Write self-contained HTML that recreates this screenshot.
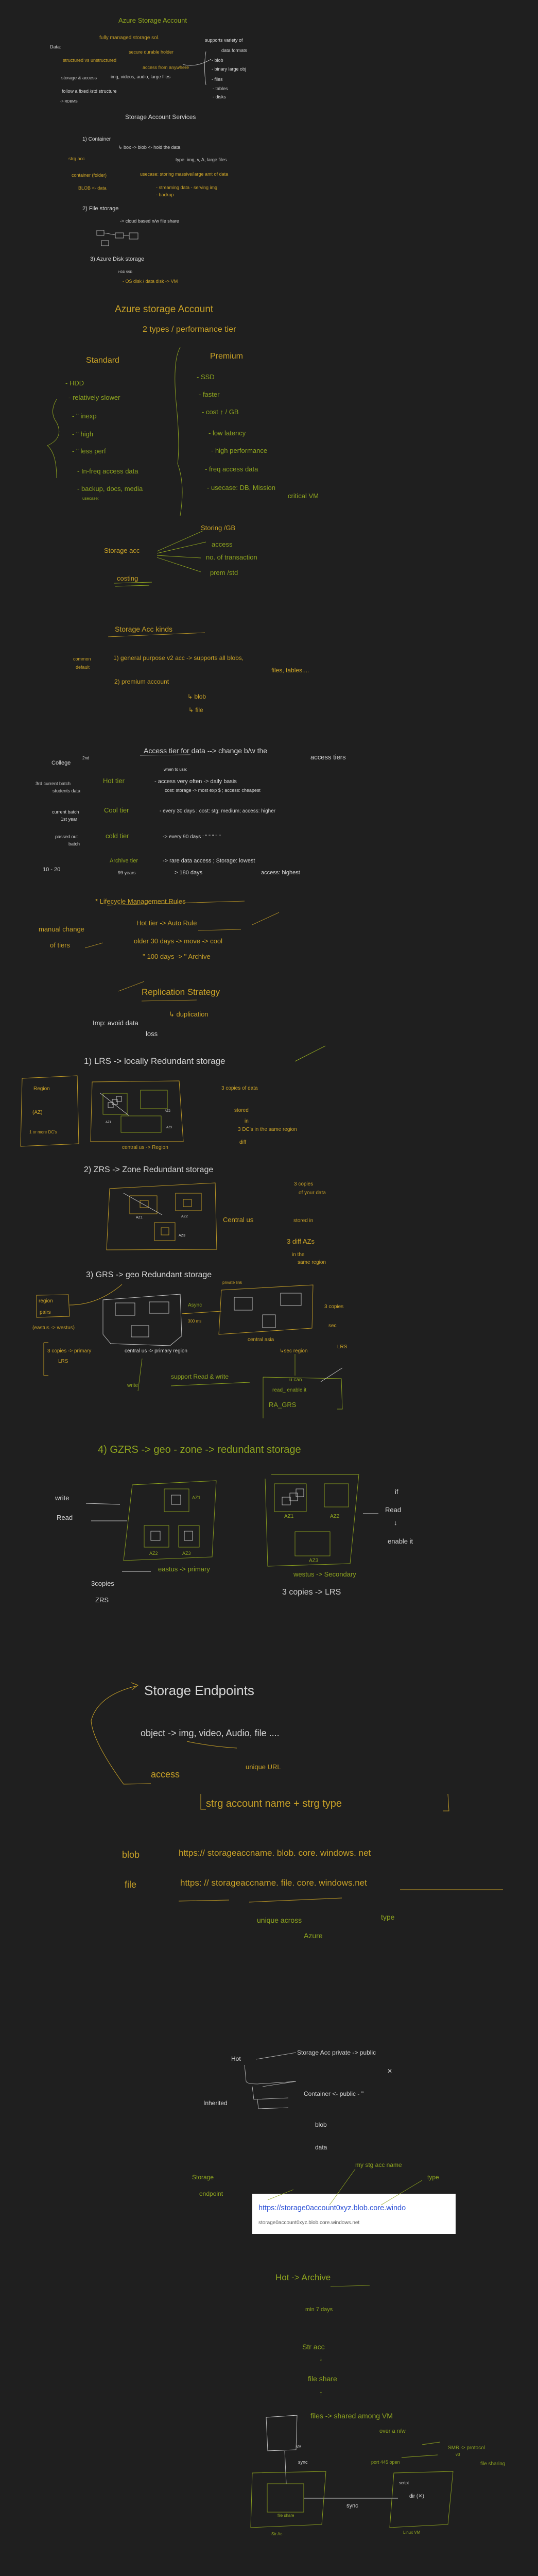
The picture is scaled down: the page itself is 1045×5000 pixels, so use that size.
<!DOCTYPE html>
<html><head><meta charset="utf-8"><style>
html,body{margin:0;padding:0;background:#1f1f1f;}
svg{display:block}
text{font-family:"Liberation Sans",sans-serif;}
.w{fill:#d6d6d6}.y{fill:#c9a227}.g{fill:#8fa51f}.b{fill:#2a4fd6}.gr{fill:#555}
</style></head><body>
<svg width="1045" height="5000" viewBox="0 0 1045 5000" xmlns="http://www.w3.org/2000/svg">
<rect width="1045" height="5000" fill="#1f1f1f"/>
<g font-size="9">
<text x="230" y="44" class="g" font-size="13">Azure Storage Account</text>
<text x="193" y="76" class="y" font-size="10">fully managed  storage sol.</text>
<text x="97" y="94" class="w">Data:</text>
<text x="250" y="104" class="y">secure  durable  holder</text>
<text x="122" y="120" class="y">structured  vs  unstructured</text>
<text x="277" y="134" class="y">access from anywhere</text>
<text x="119" y="154" class="w">storage &amp; access</text>
<text x="215" y="152" class="w">img, videos, audio, large files</text>
<text x="120" y="180" class="w">follow a fixed /std structure</text>
<text x="117" y="199" class="w" font-size="7">-&gt; RDBMS</text>
<text x="398" y="81" class="w">supports variety of</text>
<text x="430" y="101" class="w">data formats</text>
<text x="411" y="120" class="w">- blob</text>
<text x="411" y="137" class="w">- binary large obj</text>
<text x="411" y="157" class="w">- files</text>
<text x="413" y="175" class="w">- tables</text>
<text x="413" y="191" class="w">- disks</text>
<text x="243" y="231" class="w" font-size="12">Storage Account Services</text>
<text x="160" y="273" class="w" font-size="10">1)  Container</text>
<text x="230" y="289" class="w">↳ box  -&gt;  blob &lt;- hold the data</text>
<text x="341" y="313" class="w">type. img, v, A, large files</text>
<text x="133" y="311" class="y">strg acc</text>
<text x="139" y="343" class="y">container (folder)</text>
<text x="152" y="368" class="y">BLOB &lt;- data</text>
<text x="272" y="341" class="y">usecase:  storing massive/large amt of data</text>
<text x="303" y="367" class="y">- streaming data  - serving img</text>
<text x="303" y="381" class="y">- backup</text>
<text x="160" y="408" class="w" font-size="11">2)   File storage</text>
<text x="233" y="432" class="w">-&gt; cloud based n/w file share</text>
<text x="175" y="506" class="w" font-size="11">3) Azure Disk storage</text>
<text x="230" y="530" class="w" font-size="6">HDD  SSD</text>
<text x="238" y="549" class="y">-  OS disk / data disk  -&gt; VM</text>
</g>
<g fill="none" stroke="#cfcfcf" stroke-width="0.8">
<rect x="188" y="447" width="14" height="10"/><rect x="224" y="452" width="16" height="10"/><rect x="251" y="452" width="17" height="12"/><rect x="197" y="467" width="14" height="10"/>
<path d="M202 452 L224 456 M240 457 L251 457"/>
<path d="M400 100 Q395 130 400 165" stroke="#cfcfcf"/>
<path d="M355 125 Q380 132 410 115"/>
</g>
<g font-size="16">
<text x="223" y="606" class="y" font-size="19">Azure  storage  Account</text>
<text x="277" y="644" class="y">2  types / performance tier</text>
<text x="167" y="704" class="y">Standard</text>
<text x="408" y="696" class="y">Premium</text>
</g>
<g font-size="13" class="g">
<text x="127" y="748">-    HDD</text>
<text x="133" y="776">-    relatively slower</text>
<text x="140" y="812">-         ''       inexp</text>
<text x="140" y="847">-         ''      high</text>
<text x="140" y="880">-         ''      less perf</text>
<text x="150" y="919">-    In-freq  access data</text>
<text x="150" y="953">-    backup, docs, media</text>
<text x="160" y="970" font-size="8">usecase:</text>
<text x="382" y="736">-    SSD</text>
<text x="386" y="770">-   faster</text>
<text x="392" y="804">-    cost ↑ / GB</text>
<text x="405" y="845">-    low  latency</text>
<text x="410" y="879">-    high  performance</text>
<text x="398" y="915">-    freq access data</text>
<text x="402" y="951">-  usecase:   DB,  Mission</text>
<text x="559" y="967">critical VM</text>
<text x="390" y="1029" class="y">Storing  /GB</text>
<text x="411" y="1061">access</text>
<text x="400" y="1086">no.  of  transaction</text>
<text x="408" y="1116">prem  /std</text>
<text x="202" y="1073" class="y">Storage  acc</text>
<text x="227" y="1127" class="y">costing</text>
</g>
<g fill="none" stroke="#8fa51f" stroke-width="0.9">
<path d="M350 674 Q335 700 342 780 Q350 860 345 900 Q360 940 350 1001"/>
<path d="M110 775 Q95 800 110 820 Q125 850 92 865 Q110 880 110 928"/>
<path d="M305 1070 L395 1030 M305 1074 L400 1052 M305 1078 L390 1083 M305 1082 L390 1110"/>
<path d="M222 1132 L295 1130 M224 1138 L290 1136"/>
</g>
<g font-size="12" class="y">
<text x="223" y="1226" font-size="14">Storage  Acc kinds</text>
<text x="142" y="1282" font-size="9">common</text>
<text x="147" y="1298" font-size="9">default</text>
<text x="220" y="1281">1)  general purpose  v2  acc  -&gt;   supports all blobs,</text>
<text x="527" y="1305">files, tables....</text>
<text x="222" y="1327">2)   premium  account</text>
<text x="364" y="1356">↳ blob</text>
<text x="366" y="1382">↳ file</text>
</g>
<path d="M210 1236 L398 1228" stroke="#c9a227" stroke-width="0.8"/>
<g font-size="11" class="w">
<text x="279" y="1462" font-size="14">Access  tier  for  data   --&gt; change b/w the</text>
<text x="603" y="1474" font-size="13">access tiers</text>
<text x="100" y="1484">College</text><text x="160" y="1474" font-size="8">2nd</text>
<text x="318" y="1496" font-size="8">when to use:</text>
<text x="69" y="1524" font-size="9">3rd current batch</text>
<text x="102" y="1538" font-size="9">students data</text>
<text x="200" y="1520" class="g" font-size="13">Hot  tier</text>
<text x="300" y="1520">-   access very often -&gt; daily basis</text>
<text x="320" y="1537" font-size="9">cost:   storage -&gt; most exp $  ;  access: cheapest</text>
<text x="101" y="1579" font-size="9">current batch</text>
<text x="118" y="1593" font-size="9">1st year</text>
<text x="202" y="1577" class="g" font-size="13">Cool  tier</text>
<text x="310" y="1577" font-size="10">-  every 30 days ; cost: stg: medium; access: higher</text>
<text x="107" y="1627" font-size="9">passed out</text>
<text x="133" y="1641" font-size="9">batch</text>
<text x="205" y="1627" class="g" font-size="13">cold  tier</text>
<text x="316" y="1627" font-size="10">-&gt; every 90 days :    ''      ''          ''     ''      ''</text>
<text x="213" y="1674" class="g">Archive tier</text>
<text x="316" y="1674">-&gt; rare data access  ; Storage:   lowest</text>
<text x="229" y="1697" font-size="9">99 years</text>
<text x="339" y="1697">&gt; 180 days</text>
<text x="507" y="1697">access:   highest</text>
<text x="83" y="1691">10 - 20</text>
</g>
<path d="M272 1466 L370 1465" stroke="#ccc" stroke-width="0.7"/>
<g font-size="13" class="y">
<text x="185" y="1754">*  Lifecycle  Management  Rules</text>
<text x="75" y="1808">manual change</text>
<text x="97" y="1839">of tiers</text>
<text x="265" y="1796">Hot  tier   -&gt; Auto Rule</text>
<text x="260" y="1831">older 30 days -&gt; move -&gt; cool</text>
<text x="277" y="1861">''   100 days -&gt;   ''      Archive</text>
<text x="275" y="1931" font-size="17">Replication  Strategy</text>
<text x="328" y="1973">↳ duplication</text>
<text x="180" y="1990" class="w">Imp:  avoid data</text>
<text x="283" y="2011" class="w">loss</text>
</g>
<g fill="none" stroke="#c9a227" stroke-width="0.8">
<path d="M208 1757 L475 1749 M385 1806 L468 1804"/>
<path d="M490 1795 L542 1771 M165 1840 L200 1830"/>
<path d="M230 1924 L280 1905 M275 1943 L382 1941"/>
</g>
<text x="163" y="2065" class="w" font-size="17" font-family="Liberation Sans">1)    LRS  -&gt;  locally  Redundant  storage</text>
<path d="M573 2060 L632 2030" stroke="#8fa51f" fill="none"/>
<g fill="none" stroke-width="0.9">
<path d="M43 2093 L150 2088 L153 2220 L40 2225 Z" stroke="#c9a227"/>
<path d="M179 2100 L348 2098 L356 2216 L176 2216 Z" stroke="#c9a227"/>
<rect x="200" y="2122" width="47" height="41" stroke="#8fa51f"/>
<rect x="273" y="2116" width="52" height="36" stroke="#8fa51f"/>
<rect x="235" y="2166" width="78" height="32" stroke="#8fa51f"/>
<rect x="210" y="2140" width="10" height="10" stroke="#ccc"/><rect x="218" y="2134" width="10" height="10" stroke="#ccc"/><rect x="226" y="2128" width="10" height="10" stroke="#ccc"/>
<path d="M195 2122 L250 2165" stroke="#ccc"/>
</g>
<g font-size="10" class="y">
<text x="65" y="2116">Region</text><text x="63" y="2162">(AZ)</text><text x="57" y="2200" font-size="8">1 or more DC's</text>
<text x="430" y="2115">3 copies of data</text><text x="455" y="2158">stored</text><text x="475" y="2179">in</text><text x="462" y="2195">3 DC's in the same region</text><text x="465" y="2220">diff</text>
<text x="237" y="2230">central us -&gt; Region</text>
<text x="205" y="2180" class="w" font-size="6">AZ1</text><text x="320" y="2158" class="w" font-size="6">AZ2</text><text x="323" y="2190" class="w" font-size="6">AZ3</text>
</g>
<text x="163" y="2275" class="w" font-size="16" font-family="Liberation Sans">2)    ZRS  -&gt;  Zone  Redundant  storage</text>
<g fill="none" stroke-width="0.9" stroke="#c9a227">
<path d="M213 2307 L418 2296 L421 2425 L207 2426 Z"/>
<rect x="252" y="2321" width="53" height="35"/><rect x="341" y="2316" width="50" height="34"/><rect x="300" y="2373" width="40" height="35"/>
<rect x="272" y="2330" width="16" height="14"/><rect x="356" y="2328" width="16" height="14"/><rect x="313" y="2383" width="15" height="14"/>
<path d="M240 2316 L315 2358" stroke="#ccc"/>
</g>
<g font-size="10" class="y">
<text x="433" y="2372" font-size="13">Central us</text>
<text x="571" y="2301">3 copies</text><text x="580" y="2318">of your data</text>
<text x="570" y="2372">stored in</text><text x="557" y="2414" font-size="13">3 diff AZs</text>
<text x="567" y="2438">in the</text><text x="578" y="2453">same region</text>
<text x="264" y="2365" class="w" font-size="7">AZ1</text><text x="352" y="2363" class="w" font-size="7">AZ2</text><text x="347" y="2400" class="w" font-size="7">AZ3</text>
</g>
<text x="167" y="2479" class="w" font-size="16" font-family="Liberation Sans">3)    GRS -&gt; geo  Redundant  storage</text>
<g fill="none" stroke-width="0.9">
<path d="M200 2523 L350 2512 L353 2593 L330 2612 L215 2608 L200 2590 Z" stroke="#ccc"/>
<rect x="224" y="2529" width="38" height="24" stroke="#ccc"/><rect x="290" y="2527" width="38" height="22" stroke="#ccc"/><rect x="255" y="2573" width="34" height="22" stroke="#ccc"/>
<path d="M430 2504 L608 2494 L606 2578 L425 2590 Z" stroke="#c9a227"/>
<rect x="455" y="2518" width="35" height="25" stroke="#ccc"/><rect x="545" y="2510" width="40" height="24" stroke="#ccc"/><rect x="510" y="2552" width="25" height="25" stroke="#ccc"/>
<path d="M71 2514 L133 2513 L135 2555 L71 2557 Z" stroke="#c9a227"/>
<path d="M135 2533 Q190 2533 237 2493" stroke="#c9a227"/>
<path d="M353 2550 L430 2545" stroke="#c9a227"/>
<path d="M85 2606 L85 2670 M85 2606 L94 2606 M85 2670 L94 2670" stroke="#c9a227"/>
<path d="M511 2673 L511 2753 M511 2673 L663 2676 L665 2735 L655 2735" stroke="#8fa51f"/>
<path d="M332 2690 L485 2683 M276 2637 L268 2700 M573 2628 L573 2670" stroke="#8fa51f"/>
<path d="M623 2682 L665 2655" stroke="#ccc"/>
</g>
<g font-size="10">
<text x="75" y="2528" class="y">region</text><text x="77" y="2550" class="y">pairs</text>
<text x="63" y="2580" class="y">(eastus -&gt; westus)</text>
<text x="92" y="2625" class="y">3 copies -&gt; primary</text><text x="113" y="2645" class="y">LRS</text>
<text x="242" y="2625" class="w">central us -&gt; primary region</text>
<text x="365" y="2536" class="g">Async</text><text x="365" y="2567" class="y" font-size="8">300 ms</text>
<text x="432" y="2492" class="y" font-size="8">private link</text>
<text x="481" y="2603" class="y">central asia</text>
<text x="543" y="2625" class="y">↳sec  region</text>
<text x="630" y="2539" class="y">3 copies</text><text x="638" y="2576" class="y">sec</text><text x="655" y="2617" class="y">LRS</text>
<text x="332" y="2676" class="g" font-size="12">support Read &amp; write</text>
<text x="247" y="2692" class="g">write</text>
<text x="562" y="2681" class="g">u can</text>
<text x="529" y="2701" class="g">read_ enable it</text>
<text x="522" y="2731" class="g" font-size="13">RA_GRS</text>
</g>
<text x="190" y="2820" class="g" font-size="20" font-family="Liberation Sans">4)   GZRS  -&gt;  geo - zone -&gt; redundant storage</text>
<g fill="none" stroke-width="0.9">
<path d="M257 2882 L420 2874 L412 3022 L240 3029 Z" stroke="#8fa51f"/>
<rect x="319" y="2890" width="48" height="44" stroke="#8fa51f"/><rect x="280" y="2961" width="48" height="42" stroke="#8fa51f"/><rect x="347" y="2961" width="40" height="42" stroke="#8fa51f"/>
<rect x="333" y="2902" width="18" height="18" stroke="#ccc"/><rect x="293" y="2972" width="18" height="18" stroke="#ccc"/><rect x="358" y="2972" width="16" height="18" stroke="#ccc"/>
<path d="M527 2862 L697 2862 L680 3035 L520 3040 L515 2870" stroke="#8fa51f"/>
<rect x="533" y="2880" width="62" height="54" stroke="#8fa51f"/><rect x="630" y="2880" width="47" height="45" stroke="#8fa51f"/><rect x="573" y="2973" width="68" height="47" stroke="#8fa51f"/>
<rect x="548" y="2906" width="16" height="15" stroke="#ccc"/><rect x="563" y="2898" width="15" height="15" stroke="#ccc"/><rect x="575" y="2890" width="15" height="15" stroke="#ccc"/>
<path d="M167 2918 L233 2920 M177 2952 L247 2952 M237 3050 L293 3050 M705 2938 L735 2938" stroke="#ccc"/>
</g>
<g font-size="13">
<text x="107" y="2912" class="w">write</text><text x="110" y="2950" class="w">Read</text>
<text x="373" y="2910" class="g" font-size="9">AZ1</text><text x="290" y="3018" class="g" font-size="9">AZ2</text><text x="354" y="3018" class="g" font-size="9">AZ3</text>
<text x="552" y="2946" class="g" font-size="10">AZ1</text><text x="641" y="2946" class="g" font-size="10">AZ2</text><text x="600" y="3032" class="g" font-size="10">AZ3</text>
<text x="307" y="3050" class="g">eastus  -&gt; primary</text>
<text x="177" y="3078" class="w">3copies</text><text x="185" y="3110" class="w">ZRS</text>
<text x="767" y="2900" class="w">if</text><text x="748" y="2935" class="w">Read</text><text x="765" y="2960" class="w">↓</text><text x="753" y="2996" class="w">enable it</text>
<text x="570" y="3060" class="g">westus -&gt; Secondary</text>
<text x="548" y="3095" class="w" font-size="16">3 copies -&gt; LRS</text>
<text x="185" y="3110" class="w" font-size="1"> </text>
</g>
<text x="280" y="3290" class="w" font-size="26" font-family="Liberation Sans">Storage  Endpoints</text>
<g fill="none" stroke="#c9a227" stroke-width="1">
<path d="M267 3272 Q190 3290 177 3340 Q180 3380 240 3463 L293 3462"/>
<path d="M255 3266 L268 3271 L256 3280"/>
<path d="M363 3380 Q410 3390 460 3393"/>
<path d="M390 3482 L390 3512 L400 3512 M870 3482 L872 3515 L860 3515"/>
<path d="M347 3690 L445 3688 M484 3692 L664 3684 M777 3668 L977 3668"/>
</g>
<g font-size="18">
<text x="273" y="3370" class="w">object  -&gt; img,  video,  Audio,  file ....</text>
<text x="293" y="3450" class="y">access</text>
<text x="477" y="3434" class="y" font-size="13">unique  URL</text>
<text x="400" y="3507" class="y" font-size="20">strg account name  +  strg  type</text>
<text x="237" y="3606" class="y">blob</text>
<text x="347" y="3602" class="y" font-size="17">https:// storageaccname.  blob. core. windows. net</text>
<text x="242" y="3664" class="y">file</text>
<text x="350" y="3660" class="y" font-size="17">https: //   storageaccname.  file.  core.  windows.net</text>
<text x="499" y="3732" class="g" font-size="14">unique    across</text>
<text x="590" y="3762" class="g" font-size="14">Azure</text>
<text x="740" y="3726" class="g" font-size="14">type</text>
</g>
<g font-size="12" class="w">
<text x="449" y="4000">Hot</text>
<text x="577" y="3988">Storage  Acc  private  -&gt; public</text>
<text x="752" y="4024">✕</text>
<text x="590" y="4068">Container  &lt;-  public  -   ''</text>
<text x="395" y="4086">Inherited</text>
<text x="612" y="4128">blob</text>
<text x="612" y="4172">data</text>
</g>
<g fill="none" stroke="#ccc" stroke-width="0.8">
<path d="M498 3997 L575 3984 M475 4008 L478 4040 Q480 4045 500 4045 L575 4040 M490 4050 L493 4075 L560 4072 M500 4075 L502 4093 L560 4091 M510 4050 L575 4040"/>
</g>
<g font-size="12" class="g">
<text x="373" y="4230">Storage</text><text x="387" y="4262">endpoint</text>
<text x="690" y="4206">my stg acc name</text><text x="830" y="4230">type</text>
</g>
<rect x="490" y="4258" width="395" height="78" fill="#ffffff"/>
<text x="502" y="4290" class="b" font-size="14.5" font-family="Liberation Sans">https://storage0account0xyz.blob.core.windo</text>
<text x="502" y="4317" fill="#555" font-size="10" font-family="Liberation Sans">storage0account0xyz.blob.core.windows.net</text>
<g fill="none" stroke="#8fa51f" stroke-width="0.8">
<path d="M520 4270 L570 4250 M640 4280 L690 4210 M740 4280 L820 4232 M642 4438 L718 4436"/>
</g>
<g font-size="14" class="g">
<text x="535" y="4426" font-size="17">Hot  -&gt; Archive</text>
<text x="593" y="4486" font-size="11">min 7 days</text>
<text x="587" y="4560">Str  acc</text>
<text x="620" y="4582">↓</text>
<text x="598" y="4622">file share</text>
<text x="620" y="4650">↑</text>
<text x="603" y="4694">files   -&gt;   shared among  VM</text>
<text x="737" y="4722" font-size="11">over  a  n/w</text>
<text x="870" y="4754" font-size="10">SMB -&gt; protocol</text>
<text x="885" y="4767" font-size="8">v3</text>
<text x="933" y="4785" font-size="10">file sharing</text>
<text x="721" y="4782" font-size="9">port 445 open</text>
<text x="775" y="4822" font-size="8" class="w">script</text>
<text x="575" y="4751" font-size="7" class="w">VM</text>
<text x="579" y="4782" font-size="9" class="w">sync</text>
<text x="539" y="4885" font-size="8">file share</text>
<text x="527" y="4921" font-size="8">Str Ac</text>
<text x="673" y="4867" font-size="11" class="w">sync</text>
<text x="795" y="4848" font-size="10" class="w">dir (✕)</text>
<text x="783" y="4918" font-size="8">Linux VM</text>
</g>
<g fill="none" stroke-width="0.9">
<path d="M517 4692 L577 4688 L575 4755 L520 4757 Z" stroke="#ccc"/>
<path d="M553 4757 L556 4821 M590 4849 L773 4849" stroke="#ccc"/>
<path d="M490 4800 L633 4797 L625 4900 L487 4906 Z" stroke="#8fa51f"/>
<rect x="519" y="4821" width="71" height="55" stroke="#8fa51f"/>
<path d="M765 4800 L880 4797 L870 4900 L757 4906 Z" stroke="#8fa51f"/>
<path d="M780 4770 L850 4765 M820 4745 L855 4740" stroke="#8fa51f"/>
</g>
</svg>
</body></html>
